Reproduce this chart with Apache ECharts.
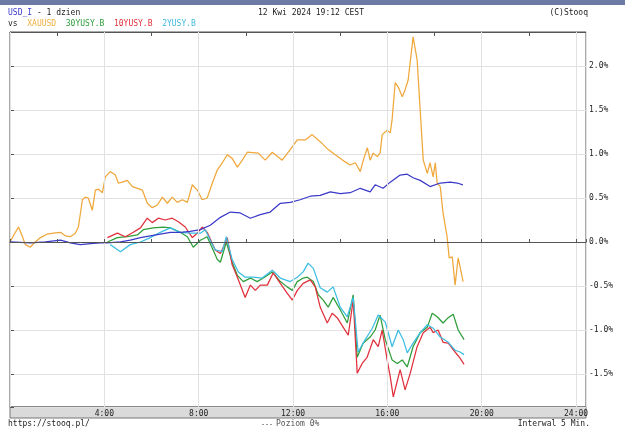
<!DOCTYPE html>
<html>
<head>
<meta charset="utf-8">
<script src="https://cdn.jsdelivr.net/npm/echarts@6/dist/echarts.min.js"></script>
<style>
  html, body { margin: 0; padding: 0; background: #fff; }
  #chart { width: 625px; height: 431px; }
</style>
</head>
<body>
<div id="chart"></div>
<script>
// times in hours (0 - 24), values in % change
const usdT = [0, 0.86, 1.5, 2.14, 2.56, 2.98, 3.41, 3.83, 4.13, 4.68, 5.10, 5.53, 5.95, 6.37, 6.80, 7.22, 7.64, 8.07, 8.49, 8.92, 9.34, 9.76, 10.19, 10.61, 11.03, 11.46, 11.88, 12.30, 12.73, 13.15, 13.58, 14.00, 14.42, 14.85, 15.27, 15.48, 15.82, 16.12, 16.54, 16.84, 17.09, 17.39, 17.81, 18.24, 18.66, 18.96, 19.2]
const usdV = [0, -0.01, 0, 0.02, -0.01, -0.03, -0.02, -0.01, -0.01, 0, 0.02, 0.05, 0.07, 0.09, 0.11, 0.11, 0.12, 0.14, 0.19, 0.28, 0.34, 0.33, 0.27, 0.31, 0.34, 0.44, 0.45, 0.48, 0.52, 0.53, 0.57, 0.55, 0.56, 0.61, 0.57, 0.65, 0.61, 0.68, 0.76, 0.77, 0.73, 0.70, 0.63, 0.67, 0.68, 0.67, 0.65]

const xauT = [0, 0.23, 0.36, 0.53, 0.65, 0.86, 0.99, 1.29, 1.58, 1.84, 2.14, 2.35, 2.56, 2.77, 2.90, 3.07, 3.19, 3.32, 3.49, 3.62, 3.75, 3.92, 4.04, 4.25, 4.47, 4.59, 4.76, 4.97, 5.19, 5.40, 5.61, 5.82, 6.03, 6.25, 6.46, 6.67, 6.88, 7.09, 7.31, 7.52, 7.73, 7.94, 8.15, 8.36, 8.58, 8.79, 9.00, 9.21, 9.42, 9.64, 9.85, 10.06, 10.53, 10.82, 11.12, 11.54, 11.88, 12.18, 12.52, 12.81, 13.15, 13.49, 13.79, 14.21, 14.42, 14.64, 14.85, 14.98, 15.15, 15.27, 15.40, 15.57, 15.69, 15.78, 15.99, 16.12, 16.20, 16.33, 16.46, 16.63, 16.75, 16.88, 17.09, 17.26, 17.39, 17.52, 17.69, 17.81, 17.94, 18.03, 18.11, 18.24, 18.36, 18.53, 18.62, 18.75, 18.87, 19.00, 19.08, 19.21]
const xauV = [0, 0.11, 0.17, 0.06, -0.03, -0.06, -0.02, 0.05, 0.09, 0.10, 0.11, 0.07, 0.06, 0.10, 0.17, 0.48, 0.51, 0.50, 0.36, 0.59, 0.60, 0.56, 0.74, 0.80, 0.76, 0.67, 0.68, 0.70, 0.63, 0.61, 0.59, 0.44, 0.39, 0.42, 0.51, 0.44, 0.51, 0.45, 0.48, 0.45, 0.65, 0.59, 0.48, 0.50, 0.67, 0.82, 0.90, 0.99, 0.95, 0.85, 0.93, 1.02, 1.01, 0.93, 1.02, 0.93, 1.05, 1.16, 1.16, 1.22, 1.14, 1.05, 0.99, 0.91, 0.875, 0.90, 0.80, 0.93, 1.07, 0.93, 1.01, 0.97, 1.01, 1.22, 1.27, 1.24, 1.39, 1.81, 1.76, 1.65, 1.73, 1.84, 2.33, 2.07, 1.50, 0.93, 0.78, 0.90, 0.74, 0.90, 0.67, 0.63, 0.33, 0.06, -0.18, -0.17, -0.49, -0.18, -0.20, -0.45]

const y30T = [4.13, 4.55, 4.97, 5.40, 5.65, 6.08, 6.50, 6.80, 7.22, 7.52, 7.77, 8.07, 8.36, 8.79, 8.92, 9.17, 9.42, 9.64, 9.89, 10.19, 10.48, 10.74, 11.12, 11.46, 11.75, 11.97, 12.18, 12.43, 12.60, 12.86, 13.07, 13.28, 13.49, 13.70, 14.00, 14.30, 14.55, 14.72, 14.97, 15.27, 15.48, 15.69, 15.91, 16.20, 16.42, 16.63, 16.84, 17.09, 17.39, 17.69, 17.90, 18.11, 18.36, 18.58, 18.79, 19.00, 19.25]
const y30V = [0, 0.05, 0.06, 0.08, 0.14, 0.16, 0.17, 0.16, 0.11, 0.06, -0.06, 0.02, 0.06, -0.20, -0.23, 0, -0.23, -0.38, -0.45, -0.41, -0.45, -0.41, -0.34, -0.45, -0.51, -0.55, -0.45, -0.41, -0.40, -0.45, -0.60, -0.66, -0.74, -0.63, -0.77, -0.92, -0.60, -1.31, -1.15, -1.08, -1.00, -0.83, -1.11, -1.34, -1.38, -1.34, -1.42, -1.19, -1.03, -0.97, -0.81, -0.85, -0.92, -0.86, -0.82, -1.00, -1.11]

const y10T = [4.13, 4.55, 4.89, 5.23, 5.53, 5.82, 6.03, 6.29, 6.58, 6.88, 7.14, 7.43, 7.73, 7.94, 8.15, 8.36, 8.70, 8.92, 9.13, 9.21, 9.42, 9.64, 9.97, 10.19, 10.40, 10.61, 10.91, 11.16, 11.46, 11.75, 11.97, 12.18, 12.43, 12.73, 12.94, 13.15, 13.45, 13.66, 13.87, 14.13, 14.34, 14.55, 14.72, 14.93, 15.14, 15.40, 15.61, 15.78, 15.99, 16.12, 16.25, 16.54, 16.75, 16.97, 17.26, 17.52, 17.81, 17.94, 18.15, 18.36, 18.58, 18.87, 19.08, 19.25]
const y10V = [0.05, 0.10, 0.06, 0.11, 0.16, 0.27, 0.22, 0.27, 0.25, 0.27, 0.23, 0.17, 0.05, 0.10, 0.17, 0.11, -0.09, -0.13, -0.01, 0.05, -0.26, -0.40, -0.63, -0.49, -0.55, -0.49, -0.49, -0.35, -0.47, -0.58, -0.66, -0.55, -0.47, -0.43, -0.51, -0.74, -0.92, -0.81, -0.86, -0.97, -1.06, -0.66, -1.49, -1.38, -1.31, -1.11, -1.19, -1.00, -1.34, -1.53, -1.76, -1.45, -1.68, -1.49, -1.19, -1.03, -0.97, -1.03, -1.00, -1.14, -1.15, -1.25, -1.32, -1.39]

const y2T = [4.25, 4.47, 4.68, 5.10, 5.53, 5.95, 6.37, 6.80, 7.22, 7.64, 8.07, 8.28, 8.49, 8.70, 9.00, 9.17, 9.42, 9.68, 9.97, 10.31, 10.69, 11.12, 11.46, 11.88, 12.18, 12.43, 12.64, 12.86, 13.15, 13.45, 13.70, 14.00, 14.30, 14.55, 14.76, 14.97, 15.36, 15.61, 15.91, 16.20, 16.46, 16.67, 16.84, 17.09, 17.39, 17.69, 17.94, 18.24, 18.58, 18.87, 19.08, 19.25]
const y2V = [-0.03, -0.07, -0.11, -0.03, 0, 0.05, 0.11, 0.16, 0.11, 0.10, 0.10, 0.14, 0.02, -0.09, -0.11, 0.06, -0.20, -0.34, -0.40, -0.40, -0.41, -0.32, -0.41, -0.45, -0.40, -0.34, -0.24, -0.30, -0.52, -0.57, -0.51, -0.74, -0.85, -0.63, -1.25, -1.15, -0.98, -0.83, -0.91, -1.19, -1.00, -1.11, -1.26, -1.15, -1.03, -0.94, -0.98, -1.08, -1.14, -1.23, -1.25, -1.28]

const hourTicks = [4, 8, 12, 16, 20, 24]
const pctTicks = [-1.5, -1.0, -0.5, 0, 0.5, 1.0, 1.5, 2.0]

const FONT = 'DejaVu Sans Mono'
const FS = 8
const TXT = '#222'

function zip(t, v) {
  return t.map((x, i) => [x, v[i]])
}

function line(name, color, t, v, extra) {
  return Object.assign({
    name: name,
    type: 'line',
    showSymbol: false,
    symbol: 'none',
    lineStyle: { color: color, width: 1.25 },
    itemStyle: { color: color },
    data: zip(t, v)
  }, extra || {})
}

var chart = echarts.init(document.getElementById('chart'))
chart.setOption({
  animation: false,
  backgroundColor: '#fff',
  grid: {
    left: 10, top: 32, right: 39, bottom: 24,
    show: true, borderColor: '#555', borderWidth: 1
  },
  graphic: [
    { type: 'rect', z: -10, shape: { x: 0, y: 0, width: 625, height: 5 }, style: { fill: '#6b7ba6' } },
    { type: 'rect', z: -10, shape: { x: 10, y: 407, width: 576, height: 11 }, style: { fill: '#dadada', stroke: '#777', lineWidth: 1 } },
    {
      type: 'text', left: 8, top: 9,
      style: {
        text: '{b|USD_I} - 1 dzien',
        font: FS + 'px ' + FONT, fill: TXT,
        rich: { b: { fill: '#3a3ac8', font: FS + 'px ' + FONT } }
      }
    },
    {
      type: 'text', left: 8, top: 20,
      style: {
        text: 'vs  {o|XAUUSD}  {g|30YUSY.B}  {r|10YUSY.B}  {c|2YUSY.B}',
        font: FS + 'px ' + FONT, fill: TXT,
        rich: {
          o: { fill: '#f0b040', font: FS + 'px ' + FONT },
          g: { fill: '#2e9e3a', font: FS + 'px ' + FONT },
          r: { fill: '#e0303c', font: FS + 'px ' + FONT },
          c: { fill: '#3cb8e0', font: FS + 'px ' + FONT }
        }
      }
    },
    { type: 'text', left: 258, top: 9, style: { text: '12 Kwi 2024 19:12 CEST', font: FS + 'px ' + FONT, fill: TXT } },
    { type: 'text', right: 37, top: 9, style: { text: '(C)Stooq', font: FS + 'px ' + FONT, fill: TXT } },
    { type: 'text', left: 8, top: 420, style: { text: 'https://stooq.pl/', font: FS + 'px ' + FONT, fill: TXT } },
    { type: 'line', shape: { x1: 262, y1: 424.5, x2: 273, y2: 424.5 }, style: { stroke: '#999', lineWidth: 1, lineDash: [2, 2] } },
    { type: 'text', left: 276, top: 420, style: { text: 'Poziom 0%', font: FS + 'px ' + FONT, fill: '#555' } },
    { type: 'text', right: 35, top: 420, style: { text: 'Interwal 5 Min.', font: FS + 'px ' + FONT, fill: TXT } }
  ],
  xAxis: [
    {
      type: 'value', position: 'bottom', min: 0, max: 24.42, interval: 4, z: 10,
      axisLine: { show: true, lineStyle: { color: '#555' } },
      axisTick: { show: true, inside: true, length: 3, lineStyle: { color: '#555' } },
      minorTick: { show: true, splitNumber: 2, length: 3, lineStyle: { color: '#555' } },
      axisLabel: {
        margin: 3, fontFamily: FONT, fontSize: FS, color: TXT,
        formatter: v => hourTicks.includes(v) ? v + ':00' : ''
      },
      splitLine: { show: true, lineStyle: { color: '#e2e2e2', width: 1 } }
    },
    {
      type: 'value', position: 'top', min: 0, max: 24.42, interval: 2,
      axisLine: { show: true, lineStyle: { color: '#555' } },
      axisTick: { show: true, inside: true, length: 4, lineStyle: { color: '#555' } },
      axisLabel: { show: false },
      splitLine: { show: false }
    }
  ],
  yAxis: {
    type: 'value', position: 'right', min: -1.875, max: 2.386,
    splitNumber: 8, minInterval: 0.5, maxInterval: 0.5,
    axisLine: { show: true, lineStyle: { color: '#555' } },
    axisTick: { show: true, length: 4, lineStyle: { color: '#555' } },
    axisLabel: {
      margin: 3, fontFamily: FONT, fontSize: FS, color: TXT,
      formatter: v => pctTicks.some(p => Math.abs(p - v) < 1e-6) ? v.toFixed(1) + '%' : ''
    },
    splitLine: { show: true, lineStyle: { color: '#e2e2e2', width: 1 } }
  },
  series: [
    line('XAUUSD', '#f0a73a', xauT, xauV, {
      markLine: {
        silent: true, symbol: 'none', animation: false,
        label: { show: false },
        lineStyle: { color: '#aaa', type: [2, 2], width: 1 },
        data: [{ yAxis: 0 }]
      }
    }),
    line('30YUSY.B', '#2e9e3a', y30T, y30V),
    line('10YUSY.B', '#e0303c', y10T, y10V),
    line('2YUSY.B', '#3cbde2', y2T, y2V),
    line('USD_I', '#3a3ac8', usdT, usdV)
  ]
})
</script>
</body>
</html>
